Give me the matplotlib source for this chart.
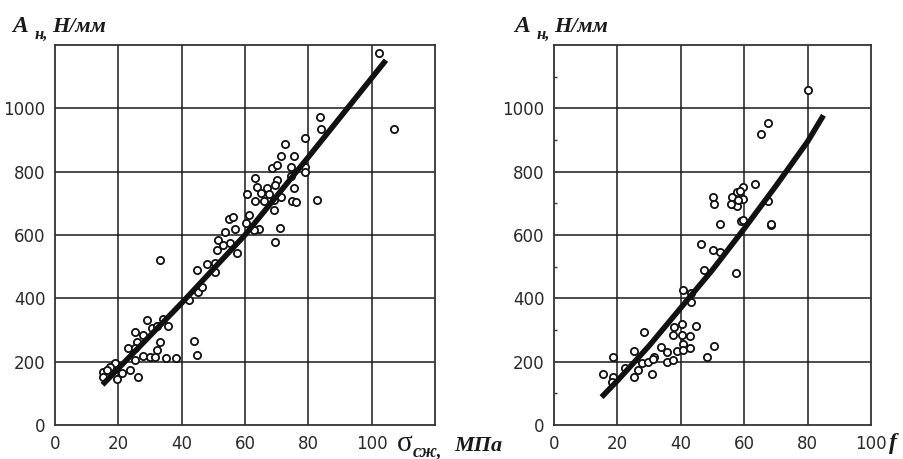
import numpy as np
import matplotlib; matplotlib.use('Agg')
import matplotlib.pyplot as plt

# left panel: impact energy vs compressive strength
sig_x = [102.2, 107.0, 83.6, 83.9, 78.8, 72.5, 71.5, 75.4, 68.6, 70.2, 74.4, 78.8, 79.0,
         63.3, 70.0, 74.4, 63.8, 66.8, 69.6, 60.6, 64.9, 67.5, 75.4, 71.5, 63.3, 65.9,
         69.1, 74.9, 76.2, 82.6, 69.1, 61.2, 54.9, 56.2, 60.4,
         71.2, 69.6, 64.3, 62.7, 57.0, 53.8, 55.4, 57.6, 51.6, 51.2, 53.2, 50.6, 50.6,
         48.0, 45.0, 45.3, 33.2, 33.2, 34.1, 35.6, 29.0, 30.6, 32.2, 27.9, 25.3, 25.9,
         23.2, 25.3, 27.9, 32.2, 30.0, 31.6, 35.0, 38.2, 44.0, 45.0, 19.0, 17.4, 15.3,
         15.3, 19.6, 21.1, 23.7, 26.3, 25.3, 16.4, 42.2, 46.4]
sig_y = [1175, 935, 973, 935, 907, 887, 850, 850, 810, 820, 815, 815, 800,
         780, 775, 785, 752, 748, 758, 730, 733, 730, 748, 720, 708, 708,
         710, 708, 705, 710, 678, 663, 650, 656, 638,
         622, 578, 619, 616, 619, 610, 574, 543, 584, 553, 568, 512, 483,
         508, 489, 420, 521, 262, 335, 313, 332, 307, 313, 284, 294, 262,
         243, 243, 218, 236, 215, 215, 211, 211, 265, 221, 196, 183, 167,
         152, 145, 164, 174, 152, 205, 174, 394, 436]
sig_fit_x = [15, 40, 60, 80, 104.5]
sig_fit_y = [127, 385, 600, 846, 1152]

# right panel: impact energy vs f
f_x = [15.4, 18.5, 18.5, 18.4, 22.4, 25.2, 25.2, 26.6, 28.4, 27.7, 29.6, 30.8, 31.5,
       31.3, 33.6, 35.5, 35.7, 37.4, 37.6, 37.9, 38.7, 40.5, 40.5, 40.8, 40.8, 42.9,
       42.9, 44.7, 40.6, 43.3, 43.3, 48.2, 50.5, 47.4, 46.3, 50.3, 52.4, 52.4, 57.4,
       68.5, 59.0, 63.4, 50.3, 50.6, 56.0, 56.6, 57.6, 59.5, 57.6, 59.7, 58.0, 59.5,
       68.3, 67.6, 80.2, 67.6, 65.2, 58.8, 55.8]
f_y = [161, 214, 151, 137, 180, 235, 153, 174, 295, 195, 200, 161, 216,
       210, 247, 231, 200, 205, 284, 308, 234, 318, 284, 256, 236, 281,
       244, 313, 426, 416, 387, 214, 249, 489, 570, 554, 547, 634, 481,
       632, 645, 761, 721, 698, 721, 698, 737, 750, 690, 713, 710, 647,
       635, 708, 1058, 953, 918, 740, 698]
f_fit_x = [15, 20, 30, 40, 50, 60, 70, 80, 85]
f_fit_y = [88, 140, 250, 370, 490, 620, 755, 895, 978]

xticks = [0, 20, 40, 60, 80, 100]
yticks = [0, 200, 400, 600, 800, 1000]

fig = plt.figure(figsize=(9.04, 4.59), dpi=100)
ax1 = fig.add_axes([55/904, 34/459, 380/904, 380/459])
ax2 = fig.add_axes([554/904, 34/459, 317/904, 380/459])

tick_col = '#2a2a2a'
for ax, xs, ys, fx, fy, xmax in [(ax1, sig_x, sig_y, sig_fit_x, sig_fit_y, 120),
                                 (ax2, f_x, f_y, f_fit_x, f_fit_y, 100)]:
    ax.set_xlim(0, xmax)
    ax.set_ylim(0, 1200)
    for v in range(20, xmax, 20):
        ax.axvline(v, color='#1a1a1a', lw=1.1, zorder=1)
    for v in range(200, 1200, 200):
        ax.axhline(v, color='#1a1a1a', lw=1.1, zorder=1)
    ax.plot(xs, ys, 'o', ms=5.2, mfc='white', mec='#111111', mew=1.3, zorder=3)
    ax.plot(fx, fy, '-', color='#111111', lw=4, solid_capstyle='butt', zorder=4)
    ax.set_xticks(xticks)
    ax.set_yticks(yticks)
    ax.tick_params(length=0, labelsize=12, labelcolor=tick_col, pad=7)
    for s in ax.spines.values():
        s.set_color('#333333')
        s.set_linewidth(1.3)

# small inner ticks on the right panel's y axis
ax2.set_yticks([100, 300, 500, 700, 900, 1100], minor=True)
ax2.tick_params(axis='y', which='minor', direction='in', length=2, width=1, color='#333333')

lab = dict(family='Liberation Serif', fontweight='bold', style='italic', color='#1a1a1a')
# y-axis titles
for x0 in (12, 514):
    fig.text(x0/904, 1 - 32/459, 'A', fontsize=17, **lab)
    fig.text((x0 + 23)/904, 1 - 39/459, 'н,', fontsize=12, **lab)
    fig.text((x0 + 40)/904, 1 - 32/459, 'Н/мм', fontsize=16, **lab)

# x-axis titles
fig.text(397/904, 1 - 451/459, 'σ', fontsize=21, family='Liberation Serif', color='#1a1a1a')
fig.text(413/904, 1 - 456/459, 'сж,', fontsize=13, **lab)
fig.text(454/904, 1 - 451/459, 'МПа', fontsize=16, **lab)
fig.text(889/904, 1 - 449/459, 'f', fontsize=17, **lab)

fig.savefig('out.png', dpi=100)
